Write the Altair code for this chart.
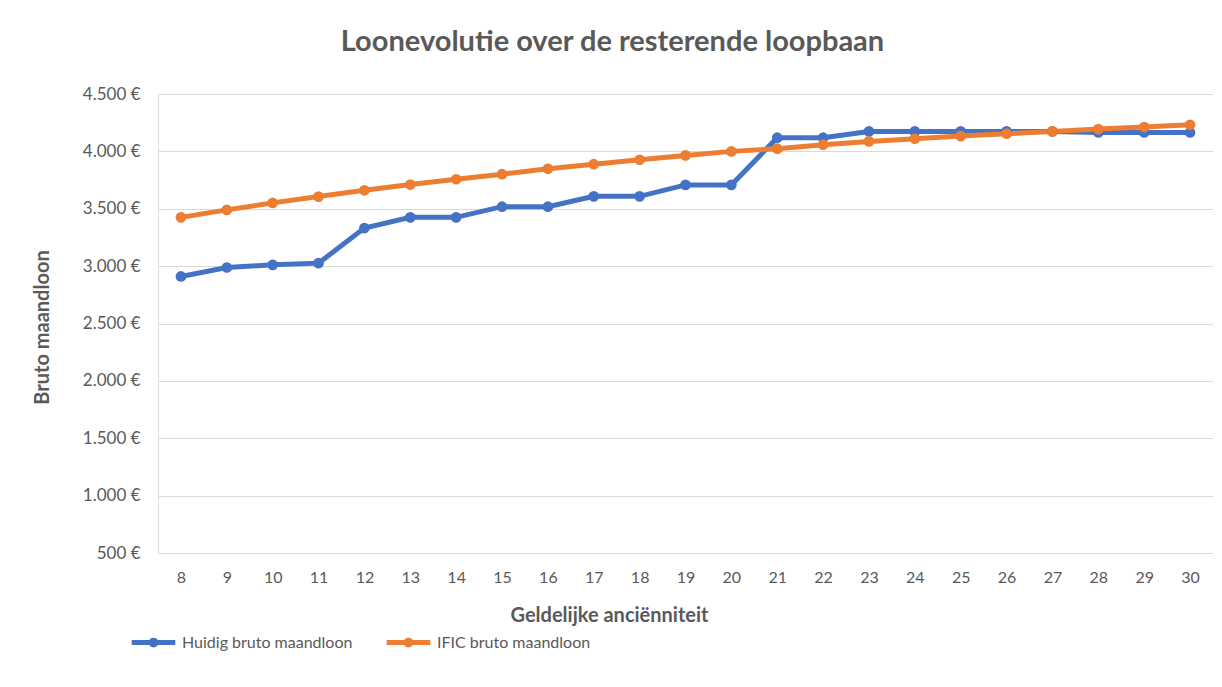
import altair as alt
import pandas as pd

anciennity = list(range(8, 31))
huidig = [2910, 2988, 3011, 3026, 3332, 3425, 3425, 3518, 3518, 3608, 3608, 3708, 3708,
          4119, 4119, 4174, 4174, 4174, 4174, 4174, 4165, 4165, 4165]
ific = [3425, 3490, 3551, 3606, 3661, 3711, 3757, 3801, 3848, 3888, 3927, 3965, 4000,
        4023, 4058, 4087, 4110, 4133, 4154, 4174, 4194, 4212, 4232]
series_names = ["Huidig bruto maandloon", "IFIC bruto maandloon"]
colors = ["#4472C4", "#ED7D31"]

rows = []
for i, a in enumerate(anciennity):
    rows.append({"x": a, "serie": series_names[0], "v": huidig[i]})
    rows.append({"x": a, "serie": series_names[1], "v": ific[i]})
df = pd.DataFrame(rows)

FONT = "Lato"
GREY = "#595959"

x = alt.X("x:O", sort=anciennity,
          axis=alt.Axis(title="Geldelijke anciënniteit", labelAngle=0, domain=False, ticks=False,
                        grid=False, labelPadding=16, labelFontSize=16, labelColor=GREY,
                        labelFont=FONT, titleFont=FONT, titleFontSize=20, titleColor=GREY,
                        titleFontWeight="bold", titleX=451, titleY=62, titleBaseline="middle",
                        titleAlign="center", titleAnchor="start"),
          scale=alt.Scale(paddingOuter=0.5, paddingInner=0))
y = alt.Y("v:Q",
          scale=alt.Scale(domain=[500, 4500], nice=False, zero=False),
          axis=alt.Axis(title="Bruto maandloon", values=list(range(500, 5000, 500)),
                        labelExpr="replace(format(datum.value, ','), ',', '.') + ' €'",
                        domain=False, ticks=False, labelPadding=18, labelFontSize=17,
                        labelColor=GREY, labelFont=FONT, titleFont=FONT, titleFontSize=20,
                        titleColor=GREY, titleFontWeight="bold", gridColor="#D9D9D9",
                        gridWidth=1, titleX=-116, titleY=233, titleBaseline="middle",
                        titleAlign="center", titleAnchor="start", titleAngle=-90))
legend_symbol = "M-1,0H1M0.11,0A0.11,0.11,0,1,1,-0.11,0A0.11,0.11,0,1,1,0.11,0"
color = alt.Color("serie:N", sort=series_names,
                  scale=alt.Scale(domain=series_names, range=colors),
                  legend=alt.Legend(title=None, orient="none", legendX=-29, legendY=524,
                                    direction="horizontal", symbolType=legend_symbol,
                                    symbolSize=1900, symbolStrokeWidth=5, labelFont=FONT,
                                    labelFontSize=16, labelColor=GREY, labelOffset=4,
                                    labelLimit=400, columnPadding=23))

base = alt.Chart(df)
lines = base.mark_line(strokeWidth=5).encode(x=x, y=y, color=color)
points = base.mark_point(filled=True, size=115, opacity=1).encode(x=x, y=y, color=color)

chart = (lines + points).properties(
    width=1055, height=459,
    padding={"left": 150, "top": 86, "right": 0, "bottom": 120},
    autosize=alt.AutoSizeParams(type="none"),
    title=alt.TitleParams("Loonevolutie over de resterende loopbaan", font=FONT, fontSize=29,
                          fontWeight="bold", color=GREY, anchor="middle", dx=-73, offset=28),
).configure_view(stroke=None).configure(background="white")

chart.save("out.html", embed_options={"renderer": "svg", "actions": False})
